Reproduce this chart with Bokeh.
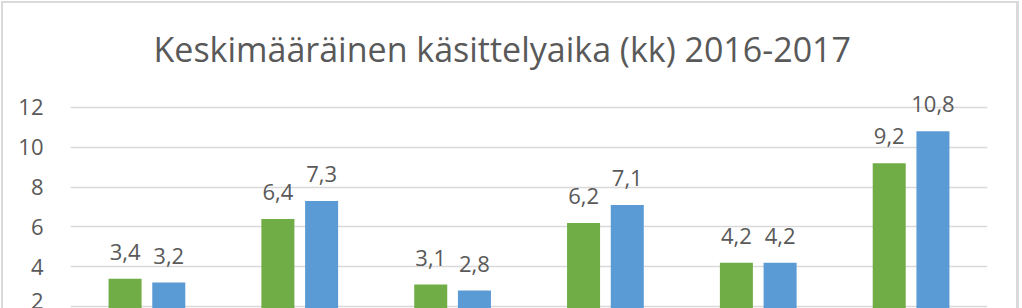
from bokeh.plotting import figure
from bokeh.models import ColumnDataSource, FactorRange, Range1d, FixedTicker
from bokeh.transform import dodge
from bokeh.core.properties import value
from bokeh.embed import file_html
from bokeh.resources import INLINE

# ---- data ----
categories = ["Ryhmä 1", "Ryhmä 2", "Ryhmä 3", "Ryhmä 4", "Ryhmä 5", "Ryhmä 6"]
series_names = ["2016", "2017"]
values_2016 = [3.4, 6.4, 3.1, 6.2, 4.2, 9.2]
values_2017 = [3.2, 7.3, 2.8, 7.1, 4.2, 10.8]
y_ticks = [2, 4, 6, 8, 10, 12]
title_text = "Keskimääräinen  käsittelyaika (kk) 2016-2017"


def fmt(v):
    return f"{v:.1f}".replace(".", ",")


src = ColumnDataSource(dict(
    cat=categories,
    a=values_2016, b=values_2017,
    la=[fmt(v) for v in values_2016],
    lb=[fmt(v) for v in values_2017],
))

FONT = "Open Sans"
TXT = "#595959"
GREEN = "#70AD47"
BLUE = "#5B9BD5"

p = figure(x_range=FactorRange(*categories, range_padding=0, factor_padding=0),
           y_range=Range1d(1.9, 12.85),
           width=1022, height=308, output_backend="svg", toolbar_location=None,
           min_border_left=70, min_border_right=35, min_border_top=90,
           min_border_bottom=0)
p.border_fill_alpha = 0
p.styles = {"box-shadow": ("inset 1px 1px 0 #FFFFFF, inset -3px 0 0 #FFFFFF, "
                           "inset 3px 3px 0 #DADADA, inset -6px 0 0 #DADADA")}

p.title.text = title_text
p.title.text_font = FONT
p.title.text_font_size = "34px"
p.title.text_font_style = "normal"
p.title.text_color = TXT
p.title.align = "left"
p.title.offset = 83
p.title.standoff = 37

off = 0.143
w = 0.216
p.vbar(x=dodge("cat", -off, range=p.x_range), top="a", bottom=0, width=w,
       source=src, color=GREEN, line_color=None)
p.vbar(x=dodge("cat", off, range=p.x_range), top="b", bottom=0, width=w,
       source=src, color=BLUE, line_color=None)

p.text(x=dodge("cat", -off, range=p.x_range), y="a", text="la", source=src,
       text_align="center", text_baseline="alphabetic", y_offset=-27,
       text_font=value(FONT), text_font_size="22px", text_color=TXT)
p.text(x=dodge("cat", off, range=p.x_range), y="b", text="lb", source=src,
       text_align="center", text_baseline="alphabetic", y_offset=-27,
       text_font=value(FONT), text_font_size="22px", text_color=TXT)

p.xaxis.visible = False
p.xgrid.visible = False
p.yaxis.ticker = FixedTicker(ticks=y_ticks)
p.yaxis.axis_line_color = None
p.yaxis.major_tick_line_color = None
p.yaxis.minor_tick_line_color = None
p.yaxis.major_label_standoff = 21
p.yaxis.major_label_text_font = FONT
p.yaxis.major_label_text_font_size = "22px"
p.yaxis.major_label_text_color = TXT
p.ygrid.grid_line_color = "#D9D9D9"
p.ygrid.grid_line_width = 1.5
p.outline_line_color = None

open("out.html", "w").write(file_html(p, INLINE))
